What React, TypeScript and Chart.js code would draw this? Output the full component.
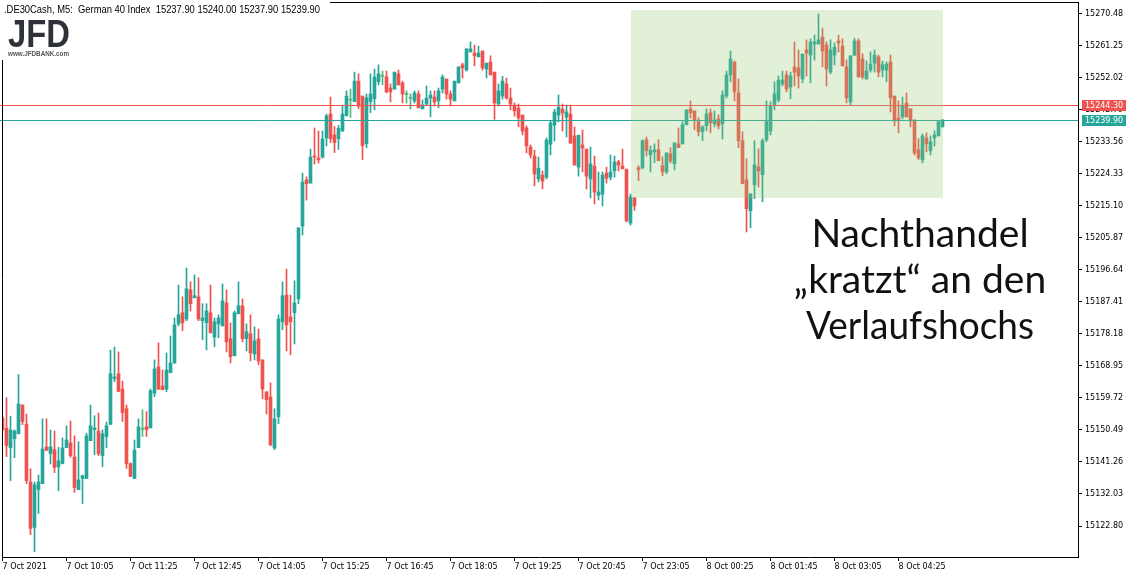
import React, { useEffect, useRef } from 'react';
import { Chart, registerables } from 'chart.js';

Chart.register(...registerables);

// ---- data (M5 candles) ----
const OPEN = [
  15153.9, 15151.0, 15145.4, 15148.0, 15149.4, 15157.7, 15152.2, 15135.5, 15122.4, 15133.3,
  15135.0, 15145.6, 15143.7, 15144.8, 15139.9, 15140.8, 15145.4, 15146.8, 15142.7, 15133.3,
  15136.5, 15136.5, 15147.4, 15150.6, 15150.2, 15143.1, 15148.6, 15152.1, 15165.3, 15166.7,
  15162.3, 15156.6, 15140.8, 15136.5, 15145.4, 15150.7, 15151.4, 15151.1, 15161.1, 15168.7,
  15163.2, 15162.3, 15167.0, 15169.8, 15181.1, 15184.3, 15182.5, 15190.9, 15188.6, 15188.9,
  15182.0, 15181.4, 15184.3, 15177.3, 15181.1, 15180.5, 15187.1, 15176.8, 15171.9, 15184.0,
  15186.3, 15176.8, 15178.2, 15172.4, 15176.8, 15170.7, 15161.5, 15160.0, 15145.3, 15154.3,
  15181.7, 15189.4, 15183.1, 15184.3, 15188.3, 15209.3, 15222.6, 15221.7, 15229.5, 15228.9,
  15229.2, 15234.7, 15241.6, 15235.6, 15234.5, 15236.8, 15241.1, 15245.6, 15245.2, 15251.1,
  15246.8, 15233.1, 15245.2, 15246.0, 15250.9, 15252.5, 15252.3, 15249.1, 15248.8, 15253.2,
  15250.6, 15247.3, 15246.1, 15245.4, 15247.4, 15243.1, 15244.5, 15246.2, 15246.5, 15245.4,
  15248.8, 15251.7, 15247.4, 15245.4, 15250.6, 15255.8, 15254.3, 15259.5, 15259.2, 15258.1,
  15259.8, 15254.6, 15256.6, 15253.7, 15244.5, 15246.8, 15250.3, 15246.2, 15244.2, 15243.3,
  15241.3, 15237.6, 15232.1, 15229.5, 15222.9, 15224.0, 15223.4, 15232.9, 15238.4, 15241.3,
  15243.0, 15240.7, 15241.6, 15235.3, 15226.3, 15232.7, 15231.5, 15222.9, 15226.6, 15218.2,
  15218.5, 15224.6, 15223.4, 15225.2, 15227.8, 15226.6, 15225.6, 15210.2, 15217.4, 15226.1,
  15226.1, 15234.2, 15229.9, 15230.7, 15231.3, 15226.7, 15224.9, 15230.1, 15227.3, 15233.0,
  15233.0, 15238.5, 15243.1, 15242.5, 15239.4, 15236.5, 15238.2, 15242.0, 15238.8, 15240.2,
  15238.8, 15246.8, 15252.9, 15256.6, 15247.7, 15233.9, 15222.6, 15213.7, 15221.2, 15226.4,
  15224.1, 15234.2, 15236.7, 15244.0, 15245.7, 15250.3, 15252.9, 15249.4, 15255.2, 15254.9,
  15251.7, 15260.1, 15258.6, 15261.8, 15261.8, 15263.8, 15261.5, 15253.7, 15258.6, 15262.7,
  15261.2, 15255.2, 15245.1, 15258.6, 15262.7, 15257.5, 15251.7, 15254.3, 15256.3, 15258.1,
  15254.3, 15254.3, 15256.6, 15246.8, 15240.5, 15240.8, 15244.8, 15243.1, 15239.9, 15231.3,
  15228.4, 15234.7, 15231.0, 15234.7, 15235.3, 15237.9,
];
const HIGH = [
  15154.4, 15159.8, 15154.4, 15150.5, 15166.5, 15157.7, 15155.1, 15139.3, 15135.5, 15137.5,
  15153.7, 15153.7, 15150.5, 15150.2, 15145.5, 15148.2, 15151.7, 15153.1, 15148.8, 15147.1,
  15137.5, 15149.5, 15157.7, 15154.6, 15155.4, 15150.5, 15152.8, 15173.5, 15174.4, 15173.0,
  15164.6, 15157.7, 15141.0, 15147.6, 15153.7, 15156.3, 15155.8, 15162.3, 15170.7, 15175.6,
  15167.8, 15172.7, 15177.6, 15182.8, 15192.3, 15188.9, 15197.2, 15193.2, 15195.2, 15194.4,
  15186.9, 15186.9, 15192.3, 15182.8, 15183.7, 15192.6, 15190.9, 15181.4, 15184.8, 15193.2,
  15188.3, 15181.1, 15183.7, 15180.2, 15179.6, 15170.7, 15161.5, 15164.1, 15156.6, 15183.7,
  15193.2, 15196.9, 15189.4, 15193.5, 15208.8, 15224.6, 15223.5, 15231.5, 15237.6, 15236.7,
  15236.7, 15241.6, 15246.5, 15238.0, 15238.3, 15244.2, 15248.3, 15248.8, 15253.7, 15253.2,
  15246.8, 15247.4, 15253.2, 15254.6, 15255.8, 15254.0, 15254.0, 15250.3, 15253.7, 15254.3,
  15251.1, 15248.3, 15247.4, 15248.3, 15248.3, 15245.7, 15249.7, 15248.3, 15248.3, 15249.1,
  15252.9, 15251.7, 15248.3, 15251.1, 15255.2, 15256.3, 15260.4, 15262.4, 15261.5, 15261.2,
  15259.8, 15256.3, 15258.4, 15253.7, 15250.3, 15252.5, 15252.0, 15249.1, 15244.8, 15244.5,
  15241.3, 15238.2, 15232.7, 15231.2, 15229.2, 15225.2, 15234.7, 15239.6, 15243.0, 15247.1,
  15244.5, 15244.2, 15244.2, 15237.9, 15235.5, 15237.0, 15231.5, 15232.1, 15229.5, 15224.9,
  15224.9, 15226.3, 15229.8, 15229.5, 15228.3, 15231.5, 15225.8, 15218.5, 15217.6, 15226.7,
  15234.2, 15235.0, 15232.4, 15233.0, 15234.2, 15229.3, 15230.4, 15231.9, 15233.3, 15237.6,
  15239.4, 15242.8, 15245.4, 15242.5, 15240.5, 15238.2, 15243.1, 15243.1, 15242.5, 15241.4,
  15248.3, 15254.0, 15259.8, 15256.9, 15251.7, 15236.5, 15228.7, 15218.6, 15233.9, 15231.6,
  15234.5, 15245.4, 15245.1, 15250.9, 15252.6, 15254.0, 15254.0, 15253.7, 15262.4, 15260.1,
  15258.9, 15263.0, 15263.3, 15264.4, 15270.5, 15266.4, 15262.4, 15263.0, 15262.1, 15264.4,
  15263.3, 15257.2, 15258.4, 15263.5, 15263.3, 15259.0, 15256.9, 15259.5, 15260.1, 15258.6,
  15256.9, 15256.6, 15258.6, 15246.8, 15245.4, 15246.5, 15247.7, 15243.1, 15239.9, 15234.5,
  15235.9, 15236.2, 15235.3, 15236.8, 15239.4, 15240.0,
];
const LOW = [
  15150.3, 15142.8, 15135.9, 15142.5, 15149.4, 15152.0, 15135.0, 15120.3, 15115.4, 15126.4,
  15135.0, 15144.6, 15140.7, 15138.2, 15133.0, 15140.7, 15145.4, 15142.6, 15132.5, 15133.3,
  15129.3, 15136.5, 15147.4, 15143.4, 15143.1, 15139.9, 15145.4, 15152.1, 15164.4, 15161.6,
  15152.9, 15139.4, 15137.1, 15136.5, 15145.4, 15148.6, 15148.6, 15151.1, 15160.1, 15162.1,
  15162.1, 15161.5, 15167.0, 15169.8, 15180.5, 15179.1, 15182.0, 15184.8, 15188.6, 15182.0,
  15176.5, 15173.6, 15178.5, 15174.5, 15177.1, 15180.5, 15173.0, 15169.8, 15171.9, 15184.0,
  15175.9, 15173.3, 15170.4, 15170.7, 15169.3, 15159.5, 15155.1, 15145.9, 15144.8, 15152.3,
  15179.4, 15173.3, 15172.2, 15175.3, 15186.9, 15206.7, 15216.8, 15221.7, 15227.2, 15227.5,
  15228.9, 15232.4, 15233.4, 15230.5, 15231.4, 15236.5, 15241.1, 15240.6, 15245.2, 15243.2,
  15228.5, 15231.9, 15242.0, 15242.8, 15250.0, 15250.0, 15247.7, 15245.1, 15248.8, 15250.0,
  15244.8, 15244.8, 15243.0, 15244.8, 15243.4, 15243.1, 15244.2, 15240.8, 15243.9, 15243.4,
  15247.7, 15245.9, 15243.9, 15245.4, 15250.6, 15252.0, 15254.0, 15259.5, 15255.5, 15258.1,
  15254.3, 15252.0, 15252.9, 15240.1, 15243.9, 15245.9, 15245.9, 15242.8, 15241.0, 15237.9,
  15235.6, 15230.4, 15228.9, 15220.9, 15222.0, 15220.0, 15222.9, 15229.8, 15233.8, 15239.3,
  15236.7, 15235.0, 15233.2, 15226.9, 15223.7, 15224.9, 15220.0, 15217.4, 15215.7, 15216.8,
  15215.1, 15221.7, 15222.6, 15223.4, 15225.2, 15225.8, 15210.5, 15209.6, 15213.8, 15222.4,
  15225.8, 15229.5, 15224.9, 15227.6, 15228.2, 15223.8, 15224.4, 15227.5, 15225.5, 15231.9,
  15233.0, 15238.5, 15240.5, 15237.1, 15235.3, 15233.9, 15236.8, 15236.2, 15237.9, 15237.3,
  15234.4, 15246.2, 15250.9, 15245.4, 15231.9, 15221.5, 15207.6, 15208.8, 15217.2, 15220.6,
  15216.3, 15233.6, 15235.6, 15242.8, 15245.1, 15249.7, 15248.0, 15246.0, 15249.7, 15249.1,
  15250.6, 15252.6, 15250.6, 15257.2, 15261.8, 15255.2, 15249.7, 15253.2, 15255.8, 15259.5,
  15255.5, 15244.8, 15244.2, 15258.4, 15252.3, 15251.7, 15251.7, 15253.7, 15253.7, 15252.3,
  15252.3, 15250.9, 15242.2, 15238.2, 15236.2, 15240.2, 15240.8, 15237.9, 15229.8, 15228.4,
  15227.5, 15230.7, 15229.8, 15232.4, 15235.3, 15237.9,
];
const CLOSE = [
  15150.5, 15146.0, 15150.5, 15150.2, 15158.0, 15152.9, 15135.9, 15122.1, 15134.7, 15135.5,
  15145.0, 15144.6, 15145.6, 15139.7, 15141.6, 15145.3, 15147.6, 15143.1, 15133.9, 15136.1,
  15137.3, 15148.8, 15151.7, 15151.1, 15143.6, 15149.4, 15151.7, 15166.7, 15165.8, 15161.6,
  15155.5, 15140.8, 15137.1, 15144.7, 15151.4, 15150.7, 15150.6, 15161.8, 15168.1, 15162.3,
  15162.1, 15167.8, 15169.8, 15180.8, 15183.7, 15181.4, 15191.2, 15186.9, 15189.2, 15182.5,
  15182.8, 15184.8, 15178.5, 15181.7, 15182.8, 15187.7, 15175.9, 15171.6, 15184.3, 15186.3,
  15176.8, 15178.8, 15172.7, 15176.2, 15170.4, 15162.3, 15159.2, 15146.2, 15153.7, 15182.5,
  15189.2, 15180.8, 15181.7, 15187.1, 15208.8, 15222.0, 15221.5, 15229.2, 15229.2, 15228.4,
  15234.4, 15241.1, 15234.5, 15233.4, 15237.5, 15241.6, 15246.8, 15245.6, 15251.1, 15243.9,
  15232.5, 15246.3, 15247.4, 15252.3, 15253.2, 15252.5, 15248.0, 15248.0, 15253.7, 15250.0,
  15247.4, 15247.3, 15246.1, 15247.7, 15243.4, 15244.2, 15246.2, 15247.1, 15245.1, 15248.3,
  15252.3, 15247.4, 15245.9, 15251.1, 15255.2, 15254.9, 15260.4, 15260.4, 15258.4, 15259.2,
  15254.9, 15256.3, 15252.9, 15244.8, 15248.3, 15251.1, 15246.2, 15244.5, 15242.5, 15240.5,
  15236.7, 15232.4, 15229.8, 15224.3, 15226.0, 15222.3, 15234.1, 15239.0, 15242.2, 15243.6,
  15241.9, 15242.2, 15233.2, 15226.9, 15235.5, 15231.8, 15223.7, 15227.2, 15219.1, 15219.1,
  15224.0, 15223.1, 15224.9, 15227.8, 15226.9, 15225.8, 15210.8, 15217.7, 15215.1, 15225.5,
  15233.9, 15231.1, 15231.1, 15231.3, 15228.2, 15224.9, 15230.4, 15228.1, 15233.3, 15231.9,
  15238.5, 15242.8, 15242.0, 15239.9, 15236.5, 15237.9, 15241.6, 15239.1, 15239.9, 15238.2,
  15247.1, 15252.9, 15257.5, 15248.0, 15233.9, 15221.5, 15214.3, 15218.6, 15227.0, 15225.2,
  15233.9, 15239.4, 15244.0, 15247.4, 15251.4, 15251.4, 15248.8, 15252.6, 15253.7, 15252.6,
  15258.9, 15259.2, 15262.4, 15262.4, 15263.0, 15259.8, 15254.6, 15260.1, 15260.9, 15262.1,
  15255.5, 15246.3, 15258.4, 15262.7, 15252.3, 15252.3, 15254.0, 15256.0, 15258.6, 15253.7,
  15255.8, 15256.0, 15246.3, 15239.6, 15239.9, 15243.9, 15240.8, 15239.6, 15230.4, 15229.0,
  15235.3, 15233.0, 15233.6, 15235.6, 15239.4, 15239.9,
];

const TICK_LABELS = [
  '7 Oct 2021', '7 Oct 10:05', '7 Oct 11:25', '7 Oct 12:45', '7 Oct 14:05',
  '7 Oct 15:25', '7 Oct 16:45', '7 Oct 18:05', '7 Oct 19:25', '7 Oct 20:45',
  '7 Oct 23:05', '8 Oct 00:25', '8 Oct 01:45', '8 Oct 03:05', '8 Oct 04:25',
];
const BARS_PER_TICK = 16;

const Y_TICKS = [
  15122.80, 15132.03, 15141.26, 15150.49, 15159.72, 15168.95, 15178.18, 15187.41, 15196.64,
  15205.87, 15215.10, 15224.33, 15233.56, 15242.79, 15252.02, 15261.25, 15270.48,
];
const Y_MIN = 15113.86;
const Y_MAX = 15273.92;
const X_MIN = -0.125;
const X_MAX = 268.875;

const ASK = 15244.30;
const BID = 15239.90;

const ZONE = { fromIndex: 157.15, toIndex: 235.15, top: 15271.6, bottom: 15217.3 };

const HEADER = '.DE30Cash, M5:  German 40 Index  15237.90 15240.00 15237.90 15239.90';
const NOTE = ['Nachthandel', '\u201Ekratzt\u201C an den', 'Verlaufshochs'];

const BULL = '#26a69a';
const BEAR = '#ef5350';
const DOJI = '#4cb879';
const AXIS_FONT = { family: 'DejaVu Sans', size: 8 };

const colorOf = (i: number) =>
  CLOSE[i] > OPEN[i] ? BULL : CLOSE[i] < OPEN[i] ? BEAR : DOJI;

const overlay = {
  id: 'overlay',
  afterDatasetsDraw(chart: any) {
    const { ctx, chartArea: a, scales } = chart;
    const x = scales.x;
    const y = scales.y;
    ctx.save();
    // bid / ask lines
    [[ASK, BEAR], [BID, BULL]].forEach(([v, c]: any) => {
      const py = Math.round(y.getPixelForValue(v)) + 0.5;
      ctx.strokeStyle = c;
      ctx.lineWidth = 1;
      ctx.beginPath();
      ctx.moveTo(0, py);
      ctx.lineTo(a.right, py);
      ctx.stroke();
    });
    // highlighted zone
    const x0 = x.getPixelForValue(ZONE.fromIndex);
    const x1 = x.getPixelForValue(ZONE.toIndex);
    const y0 = y.getPixelForValue(ZONE.top);
    const y1 = y.getPixelForValue(ZONE.bottom);
    ctx.fillStyle = 'rgba(150, 200, 115, 0.28)';
    ctx.fillRect(Math.round(x0), Math.round(y0), Math.round(x1 - x0), Math.round(y1 - y0));
    // frame top / left
    ctx.strokeStyle = '#000';
    ctx.beginPath();
    ctx.moveTo(a.left + 0.5, a.bottom);
    ctx.lineTo(a.left + 0.5, a.top + 0.5);
    ctx.lineTo(a.right, a.top + 0.5);
    ctx.stroke();
    // header & logo backgrounds
    ctx.fillStyle = '#fff';
    ctx.fillRect(0, 0, 330, 17);
    ctx.fillRect(0, 17, 76, 43);
    ctx.fillStyle = '#000';
    ctx.font = '10.5px "Liberation Sans"';
    ctx.textBaseline = 'middle';
    ctx.textAlign = 'left';
    ctx.fillText(HEADER, 4, 10, 316);
    // logo
    ctx.fillStyle = '#2e3137';
    ctx.font = 'bold 38px "Liberation Sans"';
    ctx.textBaseline = 'alphabetic';
    ctx.fillText('JFD', 8, 47, 62);
    ctx.fillStyle = '#555';
    ctx.font = 'bold 6.5px "Liberation Sans"';
    ctx.fillText('www.JFDBANK.com', 8, 56, 61);
    // note
    ctx.fillStyle = '#111';
    ctx.font = '39px Lato';
    ctx.textAlign = 'center';
    ctx.fillText(NOTE[0], 920, 247);
    ctx.fillText(NOTE[1], 920, 293);
    ctx.fillText(NOTE[2], 920, 339, 228);
    ctx.restore();
  },
  afterDraw(chart: any) {
    const { ctx, chartArea: a, scales } = chart;
    const y = scales.y;
    ctx.save();
    [[ASK, BEAR], [BID, BULL]].forEach(([v, c]: any) => {
      const py = Math.round(y.getPixelForValue(v));
      ctx.fillStyle = c;
      ctx.fillRect(a.right + 4, py - 5, 44, 11);
      ctx.fillStyle = '#fff';
      ctx.font = '8px "DejaVu Sans"';
      ctx.textBaseline = 'middle';
      ctx.textAlign = 'left';
      ctx.fillText(Number(v).toFixed(2), a.right + 7, py + 0.5);
    });
    ctx.restore();
  },
};

export default function App() {
  const ref = useRef<HTMLCanvasElement>(null);
  useEffect(() => {
    if (!ref.current) return;
    const colors = OPEN.map((_, i) => colorOf(i));
    const chart = new Chart(ref.current, {
      type: 'bar',
      data: {
        datasets: [
          {
            label: 'body',
            data: OPEN.map((o, i) => ({ x: i, y: [o, CLOSE[i]] })) as any,
            backgroundColor: colors,
            barThickness: 3,
            minBarLength: 1,
            grouped: false,
            borderWidth: 0,
          } as any,
          {
            label: 'wick',
            data: LOW.map((l, i) => ({ x: i, y: [l, HIGH[i]] })) as any,
            backgroundColor: colors,
            barThickness: 1,
            grouped: false,
            borderWidth: 0,
          } as any,
        ],
      },
      options: {
        animation: false,
        responsive: false,
        devicePixelRatio: 1,
        layout: { padding: { left: 2, top: 2, right: 0, bottom: 0 } },
        plugins: { legend: { display: false }, tooltip: { enabled: false } },
        scales: {
          x: {
            type: 'linear',
            min: X_MIN,
            max: X_MAX,
            offset: false,
            grid: { offset: false, drawOnChartArea: false, drawTicks: true, tickLength: 4, tickColor: '#000' },
            border: { display: true, color: '#000' },
            ticks: {
              autoSkip: false,
              maxRotation: 0,
              align: 'start',
              padding: 1,
              color: '#000',
              font: AXIS_FONT,
              callback: (v: any) => TICK_LABELS[Math.round(Number(v) / BARS_PER_TICK)] ?? '',
            },
            afterBuildTicks: (s: any) => {
              s.ticks = TICK_LABELS.map((_, k) => ({ value: k * BARS_PER_TICK }));
            },
            afterFit: (s: any) => {
              s.height = 21;
              s.paddingLeft = 0;
              s.paddingRight = 0;
            },
          } as any,
          y: {
            type: 'linear',
            position: 'right',
            min: Y_MIN,
            max: Y_MAX,
            beginAtZero: false,
            grid: { drawOnChartArea: false, drawTicks: true, tickLength: 4, tickColor: '#000' },
            border: { display: true, color: '#000' },
            ticks: {
              padding: 3,
              color: '#000',
              font: AXIS_FONT,
              callback: (v: any) => Number(v).toFixed(2),
            },
            afterBuildTicks: (s: any) => {
              s.ticks = Y_TICKS.map((v) => ({ value: v }));
            },
            afterFit: (s: any) => {
              s.width = 59;
              s.paddingTop = 0;
              s.paddingBottom = 0;
            },
          } as any,
        },
      },
      plugins: [overlay],
    });
    return () => chart.destroy();
  }, []);
  return (
    <div style={{ position: 'fixed', left: 0, top: 0, width: 1137, height: 578, background: '#fff' }}>
      <canvas ref={ref} width={1137} height={578} style={{ display: 'block' }} />
    </div>
  );
}
